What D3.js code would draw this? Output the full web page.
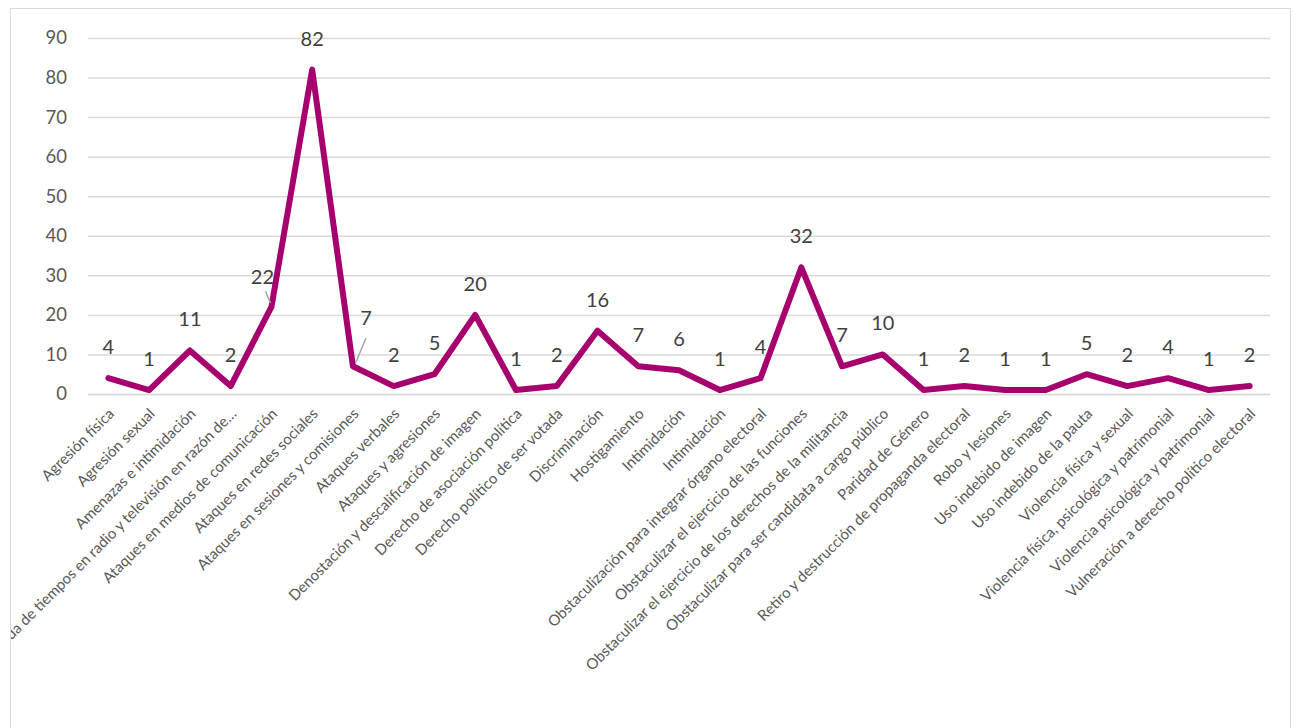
<!DOCTYPE html>
<html>
<head>
<meta charset="utf-8">
<script src="https://cdn.jsdelivr.net/npm/d3@7"></script>
<style>
  html, body { margin: 0; padding: 0; background: #fff; }
  svg { display: block; }
  text { font-family: Lato, "Open Sans", sans-serif; }
</style>
</head>
<body>
<svg id="chart" width="1296" height="728"></svg>
<script>
const categories = [
  "Agresión física",
  "Agresión sexual",
  "Amenazas e intimidación",
  "Compra indebida de tiempos en radio y televisión en razón de…",
  "Ataques en medios de comunicación",
  "Ataques en redes sociales",
  "Ataques en sesiones y comisiones",
  "Ataques verbales",
  "Ataques y agresiones",
  "Denostación y descalificación de imagen",
  "Derecho de asociación política",
  "Derecho político de ser votada",
  "Discriminación",
  "Hostigamiento",
  "Intimidación",
  "Intimidación",
  "Obstaculización para integrar órgano electoral",
  "Obstaculizar el ejercicio de las funciones",
  "Obstaculizar el ejercicio de los derechos de la militancia",
  "Obstaculizar para ser candidata a cargo público",
  "Paridad de Género",
  "Retiro y destrucción de propaganda electoral",
  "Robo y lesiones",
  "Uso indebido de imagen",
  "Uso indebido de la pauta",
  "Violencia física y sexual",
  "Violencia física, psicológica y patrimonial",
  "Violencia psicológica y patrimonial",
  "Vulneración a derecho político electoral"
];
const values = [4, 1, 11, 2, 22, 82, 7, 2, 5, 20, 1, 2, 16, 7, 6, 1, 4, 32, 7, 10, 1, 2, 1, 1, 5, 2, 4, 1, 2];
const yTicks = [0, 10, 20, 30, 40, 50, 60, 70, 80, 90];

(function () {
const svg = d3.select("#chart");
const mLeft = 88, mRight = 1270, mTop = 38, mBottom = 394;

// chart frame and clip
svg.append("defs").append("clipPath").attr("id", "frame")
  .append("rect").attr("x", 11).attr("y", 8).attr("width", 1279).attr("height", 720);
svg.append("rect").attr("x", 10.5).attr("y", 8.5).attr("width", 1280).attr("height", 740)
  .attr("fill", "#fff").attr("stroke", "#d9d9d9").attr("stroke-width", 1);

const g = svg.append("g").attr("clip-path", "url(#frame)");

const idx = d3.range(categories.length);
const x = d3.scaleBand().domain(idx).range([mLeft, mRight]).padding(0);
const y = d3.scaleLinear().domain([0, 90]).range([mBottom, mTop]);
const cx = i => x(i) + x.bandwidth() / 2;

// grid lines
const yAxis = d3.axisLeft(y).tickValues(yTicks).tickSize(-(mRight - mLeft)).tickPadding(21).tickFormat(d3.format("d"));
const ya = g.append("g").attr("transform", `translate(${mLeft},0)`).call(yAxis);
ya.select(".domain").remove();
ya.selectAll(".tick line").attr("stroke", "#d9d9d9").attr("stroke-width", 1.5);
ya.selectAll(".tick text").attr("fill", "#595959").attr("font-size", 18.5)
  .style("font-family", "Lato, 'Open Sans', sans-serif");

// x axis
const xAxis = d3.axisBottom(x).tickSize(0).tickFormat(i => categories[i]);
const xa = g.append("g").attr("transform", `translate(0,${mBottom})`).call(xAxis);
xa.select(".domain").attr("stroke", "#d9d9d9").attr("stroke-width", 1.5);
xa.selectAll(".tick text")
  .attr("fill", "#595959").attr("font-size", 15)
  .style("font-family", "Lato, 'Open Sans', sans-serif")
  .attr("text-anchor", "end")
  .attr("x", 0).attr("y", 0).attr("dy", "0.35em")
  .attr("transform", "translate(3,17) rotate(-45)");

// line
const line = d3.line().x((d, i) => cx(i)).y(d => y(d));
g.append("path").datum(values)
  .attr("d", line)
  .attr("fill", "none")
  .attr("stroke", "#a6006f")
  .attr("stroke-width", 6)
  .attr("stroke-linejoin", "round")
  .attr("stroke-linecap", "round");

// data labels (with a few moved labels and leader lines)
const moved = { 4: { dx: -9, dy: -30, lead: [[-6, -16], [-1, -4]] },
                6: { dx: 13, dy: -48, lead: [[13, -28], [3, -4]] } };
idx.forEach(i => {
  const px = cx(i), py = y(values[i]);
  const m = moved[i];
  const lx = px + (m ? m.dx : 0), ly = py + (m ? m.dy : -31);
  if (m) {
    g.append("line")
      .attr("x1", px + m.lead[0][0]).attr("y1", py + m.lead[0][1])
      .attr("x2", px + m.lead[1][0]).attr("y2", py + m.lead[1][1])
      .attr("stroke", "#a6a6a6").attr("stroke-width", 1.5);
  }
  g.append("text")
    .attr("x", lx).attr("y", ly).attr("dy", "0.35em")
    .attr("text-anchor", "middle")
    .attr("fill", "#404040").attr("font-size", 20)
    .text(values[i]);
});
})();
</script>
</body>
</html>
